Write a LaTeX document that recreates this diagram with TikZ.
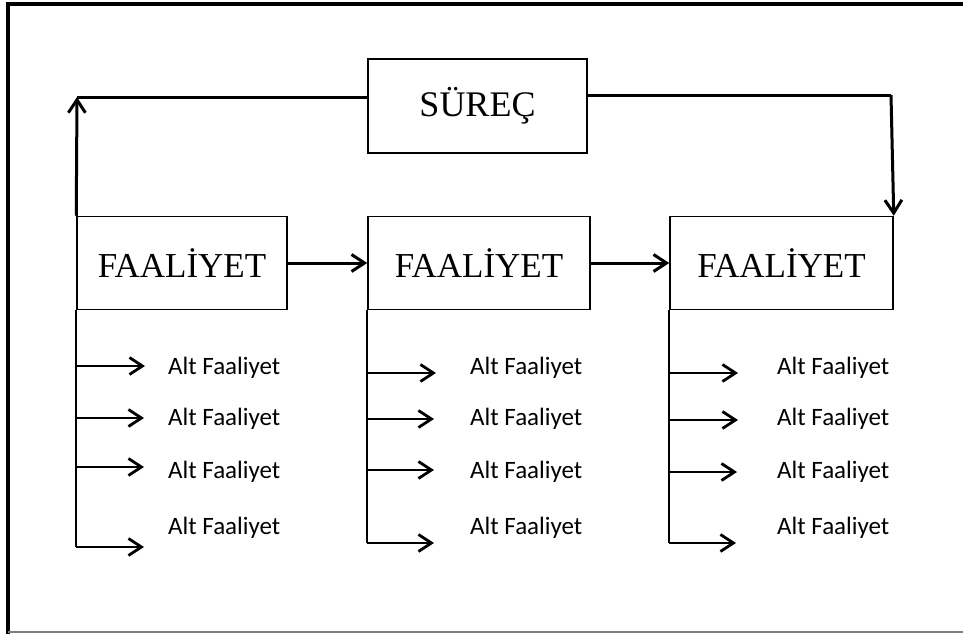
\documentclass[tikz,border=0pt]{standalone}
\usepackage{fontspec}
\setmainfont{Liberation Serif}
\newfontfamily\altfont{Carlito}
\usetikzlibrary{arrows.meta}
\begin{document}
\begin{tikzpicture}[x=1pt,y=-1pt,
  box/.style={draw, line width=1.5pt, inner sep=0pt},
  boxtext/.style={font=\fontsize{35}{40}\selectfont},
  conn/.style={line width=3pt},
  arr/.style={line width=3pt, -{Straight Barb[length=13pt,width=17pt,line width=3pt]}},
  subline/.style={line width=2pt},
  subarr/.style={line width=2.6pt, -{Straight Barb[length=13pt,width=17pt,line width=2.8pt]}},
  alt/.style={anchor=west, inner sep=0pt, font=\altfont\fontsize{25}{29}\selectfont}]
\useasboundingbox (0,0) rectangle (963,634);
% frame
\draw[line width=3.5pt] (8,634) -- (8,4) -- (963,4);
\draw[gray, line width=2pt] (8,632) -- (963,632);
% boxes
\node[box, boxtext, font=\fontsize{36}{40}\selectfont, minimum width=219pt, minimum height=94pt] (surec) at (477.5,106) {SÜREÇ};
\node[box, boxtext, minimum width=210pt, minimum height=93pt] (b1) at (182,263) {FAALİYET};
\node[box, boxtext, minimum width=222pt, minimum height=93pt] (b2) at (479,263) {FAALİYET};
\node[box, boxtext, minimum width=223pt, minimum height=93pt] (b3) at (781.5,263) {FAALİYET};
% loop connectors
\coordinate (c1) at (77,97);
\coordinate (c2) at (891,95);
\draw[arr] (b1.north west) -- (c1);
\draw[conn] (c1) -- (surec.west |- c1);
\draw[conn] (surec.east |- c2) -- (c2);
\draw[arr] (c2) -- (b3.north east);
% between boxes
\draw[arr] (b1.east) -- (b2.west);
\draw[arr] (b2.east) -- (b3.west);
% column 1
\coordinate (a1e1) at (145,366);
\coordinate (a1e2) at (144,418);
\coordinate (a1e3) at (144,467);
\coordinate (a1e4) at (144,547);
\draw[subline] (b1.south west) -- (b1.south west |- a1e4);
\foreach \i in {1,...,4} \draw[subarr] (b1.south west |- a1e\i) -- (a1e\i);
\node[alt] (t11) at (168,368) {Alt Faaliyet};
\node[alt] (t12) at (168,419) {Alt Faaliyet};
\node[alt] (t13) at (168,472) {Alt Faaliyet};
\node[alt] (t14) at (168,528) {Alt Faaliyet};
% column 2
\coordinate (a2e1) at (436,373);
\coordinate (a2e2) at (434,419);
\coordinate (a2e3) at (434,470);
\coordinate (a2e4) at (434,543);
\draw[subline] (b2.south west) -- (b2.south west |- a2e4);
\foreach \i in {1,...,4} \draw[subarr] (b2.south west |- a2e\i) -- (a2e\i);
\node[alt] (t21) at (470,368) {Alt Faaliyet};
\node[alt] (t22) at (470,419) {Alt Faaliyet};
\node[alt] (t23) at (470,472) {Alt Faaliyet};
\node[alt] (t24) at (470,528) {Alt Faaliyet};
% column 3
\coordinate (a3e1) at (738,373);
\coordinate (a3e2) at (738,420);
\coordinate (a3e3) at (737,472);
\coordinate (a3e4) at (736,543);
\draw[subline] (b3.south west) -- (b3.south west |- a3e4);
\foreach \i in {1,...,4} \draw[subarr] (b3.south west |- a3e\i) -- (a3e\i);
\node[alt] (t31) at (777,368) {Alt Faaliyet};
\node[alt] (t32) at (777,419) {Alt Faaliyet};
\node[alt] (t33) at (777,472) {Alt Faaliyet};
\node[alt] (t34) at (777,528) {Alt Faaliyet};
\end{tikzpicture}
\end{document}
